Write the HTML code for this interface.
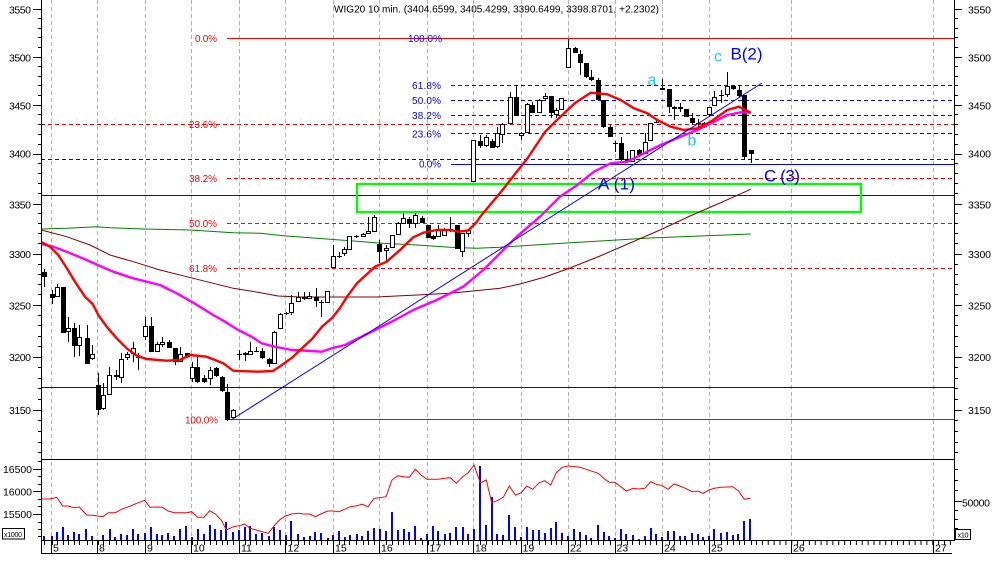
<!DOCTYPE html>
<html><head><meta charset="utf-8"><style>
html,body{margin:0;padding:0;background:#fff;}
svg{display:block;}
text{font-family:"Liberation Sans",Arial,sans-serif;}
</style></head><body>
<svg width="994" height="565" viewBox="0 0 994 565" xmlns="http://www.w3.org/2000/svg">
<rect width="994" height="565" fill="#fff"/>
<!-- vertical day grid -->
<g stroke="#b0b0b0" stroke-width="1" stroke-dasharray="4,3" fill="none">
<path d="M51.5 0V540M97.5 0V540M145.5 0V540M191.5 0V540M239.5 0V540M285.5 0V540M333.5 0V540M379.5 0V540M427.5 0V540M473.5 0V540M521.5 0V540M568.5 0V540M615.5 0V540M662.5 0V540M709.5 0V540M791.5 0V540M933.5 0V540"/>
</g>
<!-- fib / horizontal lines -->
<g fill="none" stroke-width="1">
<path stroke="#ff0000" stroke-dasharray="4,3" d="M41 124.5H955M227 178.5H955M227 223.5H955M227 268.5H955"/>
<path stroke="#0000ff" stroke-dasharray="4,3" d="M451 85.5H955M451 100.5H955M451 115.5H955M451 133.5H955M41 159.5H955"/>
<path stroke="#0000ff" d="M451 164.5H955M41 195.5H955M41 387.5H955"/>
<path stroke="#ff0000" d="M227 38.5H955M229 419.5H955"/>
</g>
<!-- green box -->
<rect x="357" y="184" width="504" height="28" fill="none" stroke="#00ff00" stroke-width="2.3"/>
<!-- slow MAs -->
<polyline fill="none" stroke="#008000" stroke-width="1" points="41.3,229 66.7,228.3 96.7,226.7 110,227.7 143.3,229 190,230 233.3,232.7 260.7,233.3 283.3,235.7 316.7,238.3 350,240.7 383.3,243.3 416.7,245 450,247.3 476.7,248.3 500,247.3 550,244 600,241 650,238 700,236 750.7,234"/>
<polyline fill="none" stroke="#800000" stroke-width="1" points="41.3,230 66.7,236.7 90,245 110,255 133.3,261.7 160,270 186.7,276.7 213.3,283.3 233.3,288.3 260.7,292.7 278,296 300,297 333,297 377,297 417,295 450,293.3 483,290 500,288.3 520,284 545,277 570,268 600,256 630,243 660,230 690,216 720,203 750.7,189.3"/>
<!-- candles -->
<path stroke="#000" stroke-width="1" fill="none" d="M44.5 269V287M52.5 290V304M57.5 284V297M63.5 287V333M68.5 317V342M74.5 323V357M79.5 325V356M87.5 325V364M92.5 345V360M98.5 373V415M103.5 383V410M109.5 367V395M116.5 370V380M121.5 353V383M127.5 352V360M133.5 342V362M138.5 353V370M145.5 317V340M151.5 317V352M157.5 342V352M162.5 337V347M169.5 340V348M175.5 348V365M180.5 347V362M187.5 353V358M192.5 362V382M197.5 357V383M204.5 375V383M210.5 367V385M216.5 367V377M222.5 376V392M227.5 384V421M233.5 409V419M239.5 350V360M245.5 352V361M250.5 342V355M256.5 347V352M262.5 348V359M269.5 358V367M274.5 331V364M280.5 313V329M286.5 312V315M291.5 295V315M298.5 292V302M304.5 292V300M309.5 292V299M316.5 288V307M321.5 300V317M327.5 291V303M333.5 245V268M339.5 252V258M344.5 247V256M349.5 236V250M356.5 235V238M363.5 233V237M368.5 217V234M374.5 215V232M379.5 240V263M386.5 245V262M392.5 235V248M398.5 222V235M403.5 213V224M409.5 217V228M415.5 213V228M422.5 216V223M428.5 225V238M433.5 235V240M438.5 225V237M444.5 228V236M450.5 217V232M457.5 225V249M462.5 233V257M468.5 230V237M473.5 140V182M480.5 135V148M486.5 135V147M492.5 139V148M497.5 127V148M502.5 123V143M510.5 92V125M516.5 85V116M521.5 132V140M527.5 103V133M532.5 102V113M539.5 99V113M545.5 93V100M551.5 96V118M556.5 108V118M561.5 98V110M568.5 39V68M575.5 47V53M580.5 50V75M586.5 63V78M591.5 70V81M598.5 78V100M603.5 100V128M610.5 125V137M615.5 141V152M621.5 137V163M627.5 151V163M632.5 150V162M639.5 149V157M645.5 133V154M650.5 123V141M656.5 120V123M662.5 79V90M669.5 89V113M674.5 106V120M680.5 103V112M686.5 109V117M692.5 113V125M698.5 119V127M704.5 122V128M709.5 107V117M714.5 91V106M721.5 90V103M727.5 72V97M733.5 85V90M739.5 85V98M744.5 95V160M751.5 150V163"/>
<path fill="#000" d="M42 272h5v5h-5zM50 294h5v4h-5zM61 287h5v46h-5zM72 328h5v18h-5zM85 338h5v26h-5zM96 385h5v25h-5zM114 375h5v2h-5zM136 357h5v1h-5zM149 326h5v26h-5zM167 342h5v6h-5zM173 348h5v14h-5zM185 353h5v4h-5zM195 367h5v15h-5zM202 378h5v4h-5zM214 368h5v8h-5zM220 377h5v14h-5zM225 392h5v28h-5zM237 354h5v1h-5zM243 353h5v2h-5zM254 351h5v1h-5zM260 351h5v7h-5zM267 359h5v5h-5zM284 313h5v1h-5zM302 297h5v2h-5zM314 297h5v4h-5zM319 302h5v1h-5zM337 256h5v1h-5zM354 236h5v1h-5zM377 244h5v8h-5zM407 219h5v5h-5zM420 218h5v5h-5zM426 225h5v13h-5zM431 236h5v3h-5zM448 229h5v1h-5zM455 225h5v24h-5zM478 141h5v5h-5zM490 141h5v7h-5zM514 97h5v19h-5zM530 105h5v8h-5zM549 96h5v17h-5zM573 48h5v5h-5zM578 54h5v9h-5zM584 63h5v14h-5zM589 77h5v3h-5zM596 80h5v20h-5zM601 100h5v27h-5zM608 127h5v10h-5zM613 143h5v1h-5zM619 143h5v17h-5zM625 159h5v3h-5zM637 150h5v5h-5zM654 122h5v1h-5zM660 88h5v2h-5zM667 89h5v18h-5zM672 107h5v2h-5zM678 107h5v2h-5zM684 109h5v8h-5zM690 118h5v5h-5zM696 123h5v1h-5zM702 123h5v4h-5zM719 95h5v1h-5zM731 86h5v3h-5zM737 90h5v6h-5zM742 95h5v62h-5zM749 150h5v4h-5z"/>
<path fill="#fff" stroke="#000" stroke-width="1" d="M55.5 287.5h4v9h-4zM66.5 328.5h4v3h-4zM77.5 337.5h4v8h-4zM90.5 354.5h4v4h-4zM101.5 395.5h4v13h-4zM107.5 375.5h4v19h-4zM119.5 359.5h4v18h-4zM125.5 354.5h4v3h-4zM131.5 348.5h4v5h-4zM143.5 326.5h4v10h-4zM155.5 344.5h4v7h-4zM160.5 342.5h4v2h-4zM178.5 354.5h4v7h-4zM190.5 367.5h4v11h-4zM208.5 370.5h4v8h-4zM231.5 410.5h4v7h-4zM248.5 351.5h4v3h-4zM272.5 332.5h4v31h-4zM278.5 314.5h4v14h-4zM289.5 303.5h4v9h-4zM296.5 297.5h4v4h-4zM307.5 296.5h4v2h-4zM325.5 291.5h4v11h-4zM331.5 256.5h4v11h-4zM342.5 249.5h4v4h-4zM347.5 236.5h4v13h-4zM361.5 234.5h4v2h-4zM366.5 231.5h4v2h-4zM372.5 217.5h4v14h-4zM384.5 248.5h4v2h-4zM390.5 235.5h4v12h-4zM396.5 223.5h4v11h-4zM401.5 218.5h4v5h-4zM413.5 215.5h4v8h-4zM436.5 229.5h4v7h-4zM442.5 229.5h4v6h-4zM460.5 233.5h4v18h-4zM466.5 230.5h4v3h-4zM471.5 140.5h4v41h-4zM484.5 137.5h4v8h-4zM495.5 133.5h4v13h-4zM500.5 124.5h4v10h-4zM508.5 97.5h4v26h-4zM519.5 133.5h4v2h-4zM525.5 104.5h4v28h-4zM537.5 100.5h4v12h-4zM543.5 96.5h4v2h-4zM554.5 110.5h4v4h-4zM559.5 98.5h4v11h-4zM566.5 48.5h4v19h-4zM630.5 150.5h4v11h-4zM643.5 142.5h4v11h-4zM648.5 123.5h4v17h-4zM707.5 107.5h4v7h-4zM712.5 97.5h4v8h-4zM725.5 86.5h4v8h-4z"/>
<!-- fast MAs -->
<polyline fill="none" stroke="#ff00ff" stroke-width="2.4" stroke-linejoin="round" points="41.3,244 53.3,246.7 66.7,251.7 86.7,260 100,266 113.3,271.7 133.3,278.3 160,285 176.7,293.3 193.3,302.7 213.3,315 225,321.7 238.3,330 251.7,336.7 261.7,343.3 275,346.7 291.7,350 311.7,351 321.7,351.7 331.7,348.3 345,345 355,340 375,330 395,320 413.3,310 436.7,300 463.3,286.7 483.3,270 500,253.3 516.7,236.7 540,216.7 560,196.7 577.3,185 594,171.7 610.7,163.3 627.3,161.7 644,153.3 660.7,145 680.7,136.7 697.3,130 710.7,123.3 727.3,115 740.7,112.3 750.7,112.7"/>
<polyline fill="none" stroke="#ff0000" stroke-width="2.4" stroke-linejoin="round" points="41,242 50,246.7 58.3,255 66.7,268 75,281.7 85,296.7 92.7,304 98.3,315 106.7,326.7 116.7,338.3 126.7,348.3 136.7,355.7 146.7,359 166.7,360.7 180,360 190,355 206.7,356.7 223.3,363.3 233.3,370.7 246.7,371.3 258,371.7 273,371 282,365 292,357.7 302,348.3 312,339 322,326.7 332,318 340,308 347,296.7 357,283.3 375,266.7 386.7,261.7 400,250 413.3,237.3 423.3,232.7 436.7,230 450,230 458.3,231.7 468.3,230.5 476.7,222 480,217 490,205 501.7,191 515,174 527,159 545,132 557,120 575,103 590.7,92.7 607.3,94.3 620.7,100 634,108.3 647.3,113.3 657.3,120 670.7,126.7 684,130 697.3,128.3 710.7,121.7 727.3,110 739,106.7 750.7,112.7"/>
<!-- trendline -->
<line x1="231" y1="420" x2="762" y2="83" stroke="#0000ff" stroke-width="1"/>
<!-- axes -->
<g stroke="#000" stroke-width="1" fill="none">
<path d="M41.5 0V553.5M954.5 0V540.5M41 459.5H955M41 540.5H955M41 553.5H952"/>
<path d="M33 9.5H41M33 57.5H41M33 105.5H41M33 154.5H41M33 204.5H41M33 254.5H41M33 305.5H41M33 357.5H41M33 410.5H41"/>
<path d="M38 18.5H41M38 28.5H41M38 37.5H41M38 47.5H41M38 66.5H41M38 76.5H41M38 85.5H41M38 95.5H41M38 114.5H41M38 124.5H41M38 134.5H41M38 144.5H41M38 163.5H41M38 173.5H41M38 183.5H41M38 193.5H41M38 213.5H41M38 223.5H41M38 233.5H41M38 243.5H41M38 264.5H41M38 274.5H41M38 284.5H41M38 294.5H41M38 315.5H41M38 325.5H41M38 336.5H41M38 346.5H41M38 367.5H41M38 378.5H41M38 388.5H41M38 399.5H41M38 420.5H41M38 431.5H41M38 442.5H41M38 452.5H41"/>
<path d="M955 9.5H962M955 57.5H962M955 105.5H962M955 154.5H962M955 204.5H962M955 254.5H962M955 305.5H962M955 357.5H962M955 410.5H962"/>
<path d="M955 18.5H958M955 28.5H958M955 37.5H958M955 47.5H958M955 66.5H958M955 76.5H958M955 85.5H958M955 95.5H958M955 114.5H958M955 124.5H958M955 134.5H958M955 144.5H958M955 163.5H958M955 173.5H958M955 183.5H958M955 193.5H958M955 213.5H958M955 223.5H958M955 233.5H958M955 243.5H958M955 264.5H958M955 274.5H958M955 284.5H958M955 294.5H958M955 315.5H958M955 325.5H958M955 336.5H958M955 346.5H958M955 367.5H958M955 378.5H958M955 388.5H958M955 399.5H958M955 420.5H958M955 431.5H958M955 442.5H958M955 452.5H958"/>
<path d="M33 469.5H41M33 491.5H41M33 514.5H41M38 461.5H41M38 476.5H41M38 484.5H41M38 499.5H41M38 506.5H41M38 522.5H41M38 529.5H41M38 536.5H41"/>
<path d="M955 469.5H958M955 480.5H958M955 490.5H958M955 501.5H962M955 510.5H958M955 519.5H958M955 528.5H958"/>
<path d="M51.5 540V553M97.5 540V553M145.5 540V553M191.5 540V553M239.5 540V553M285.5 540V553M333.5 540V553M379.5 540V553M427.5 540V553M473.5 540V553M521.5 540V553M568.5 540V553M615.5 540V553M662.5 540V553M709.5 540V553M791.5 540V553M933.5 540V553"/>
<path d="M44.5 541v4M52.5 541v4M57.5 541v4M63.5 541v4M68.5 541v4M74.5 541v4M79.5 541v4M87.5 541v4M92.5 541v4M98.5 541v4M103.5 541v4M109.5 541v4M116.5 541v4M121.5 541v4M127.5 541v4M133.5 541v4M138.5 541v4M145.5 541v4M151.5 541v4M157.5 541v4M162.5 541v4M169.5 541v4M175.5 541v4M180.5 541v4M187.5 541v4M192.5 541v4M197.5 541v4M204.5 541v4M210.5 541v4M216.5 541v4M222.5 541v4M227.5 541v4M233.5 541v4M239.5 541v4M245.5 541v4M250.5 541v4M256.5 541v4M262.5 541v4M269.5 541v4M274.5 541v4M280.5 541v4M286.5 541v4M291.5 541v4M298.5 541v4M304.5 541v4M309.5 541v4M316.5 541v4M321.5 541v4M327.5 541v4M333.5 541v4M339.5 541v4M344.5 541v4M349.5 541v4M356.5 541v4M363.5 541v4M368.5 541v4M374.5 541v4M379.5 541v4M386.5 541v4M392.5 541v4M398.5 541v4M403.5 541v4M409.5 541v4M415.5 541v4M422.5 541v4M428.5 541v4M433.5 541v4M438.5 541v4M444.5 541v4M450.5 541v4M457.5 541v4M462.5 541v4M468.5 541v4M473.5 541v4M480.5 541v4M486.5 541v4M492.5 541v4M497.5 541v4M502.5 541v4M510.5 541v4M516.5 541v4M521.5 541v4M527.5 541v4M532.5 541v4M539.5 541v4M545.5 541v4M551.5 541v4M556.5 541v4M561.5 541v4M568.5 541v4M575.5 541v4M580.5 541v4M586.5 541v4M591.5 541v4M598.5 541v4M603.5 541v4M610.5 541v4M615.5 541v4M621.5 541v4M627.5 541v4M632.5 541v4M639.5 541v4M645.5 541v4M650.5 541v4M656.5 541v4M662.5 541v4M669.5 541v4M674.5 541v4M680.5 541v4M686.5 541v4M692.5 541v4M698.5 541v4M704.5 541v4M709.5 541v4M714.5 541v4M721.5 541v4M727.5 541v4M733.5 541v4M739.5 541v4M744.5 541v4M751.5 541v4"/>
<line x1="756" y1="543" x2="952" y2="543" stroke-width="4" stroke-dasharray="1,4.875"/>
<rect x="2.5" y="528.5" width="22" height="10.5"/>
<rect x="955.5" y="529.5" width="15" height="10"/>
</g>
<!-- volume -->
<path fill="none" stroke="#0000ff" stroke-width="2" d="M44 540V536M52 540V536M57 540V532M63 540V527M68 540V535M74 540V532M79 540V534M86 540V529M92 540V536M103 540V535M110 540V529M115 540V537M121 540V534M127 540V535M133 540V529M138 540V534M145 540V533M151 540V527M157 540V534M162 540V535M168 540V533M174 540V536M180 540V529M186 540V526M192 540V537M198 540V529M204 540V534M210 540V525M215 540V529M221 540V530M226 540V522M233 540V532M239 540V530M245 540V527M250 540V526M256 540V534M262 540V533M269 540V536M274 540V527M280 540V530M286 540V535M291 540V521M298 540V534M304 540V537M310 540V536M315 540V532M321 540V533M328 540V538M333 540V535M339 540V531M345 540V537M350 540V535M357 540V534M362 540V536M368 540V531M374 540V528M380 540V529M386 540V531M392 540V512M398 540V530M404 540V529M409 540V532M415 540V526M421 540V538M427 540V534M433 540V526M438 540V531M445 540V534M450 540V533M456 540V527M463 540V527M468 540V534M474 540V529M480 540V466M486 540V525M492 540V497M497 540V534M503 540V535M509 540V515M515 540V527M521 540V537M527 540V527M533 540V530M539 540V530M545 540V533M551 540V528M556 540V522M562 540V533M568 540V536M574 540V529M580 540V532M586 540V535M591 540V538M598 540V525M604 540V532M609 540V536M615 540V538M621 540V529M626 540V534M633 540V535M639 540V539M645 540V536M651 540V528M656 540V534M662 540V537M668 540V531M674 540V531M680 540V536M685 540V536M692 540V533M698 540V534M703 540V537M709 540V536M714 540V529M721 540V533M727 540V532M733 540V535M738 540V534M744 540V521M750 540V519"/>
<polyline fill="none" stroke="#ff0000" stroke-width="1" points="41.3,499 50,499 56.7,497.3 62.7,506 68.3,506 74,507.7 79.3,507 86.7,515 92.3,515.3 97.3,516 103,516.7 108.3,512.7 115.3,512.7 121.3,509.3 127,507.3 132.7,505 138.3,502.7 144.7,500.3 150,507.3 156.7,507 162.3,507.3 168.3,511 174.3,512.7 186.7,512.7 191.7,511.7 197.7,517.3 204,517.3 209.7,510.7 215.3,514 221.3,520 226.3,530 233.3,526.7 239.3,525.7 244.7,524 250,528.3 256.3,530 262.3,531.7 268.3,533.3 274,526 280.3,519.3 285.7,516 291.3,514 298.3,513.3 304,514 309.7,514 315.3,516.7 320.7,514 327.7,511 333.3,511 338.7,511.7 344.7,509.3 350.3,506.7 356.7,505.7 362.3,504.3 368,506.7 374,498.3 379.7,497.7 386,496.7 392,480 397.7,475.7 403.7,476.7 409.3,477.3 415.3,469.3 421,475 427,479.3 432.7,479.3 438.3,479.3 444.7,478.3 450.3,477.7 456.3,483.3 462.7,476.7 468.3,472.7 474,465 480.3,482.7 486.3,480 491.7,502.7 497.3,500.7 503.3,497.3 509.3,486 515.3,495 521.3,492.7 526.7,486 532.7,489.3 539.3,482.7 544.7,480.7 550.7,485 556.3,472.7 562.3,467.3 568,466 580.3,467.3 586,469.3 598.3,473.3 603.7,478.3 609.3,482.3 615,482.3 620.7,486.7 626.3,491 633.3,488.3 638.7,489 644.7,488.3 650.7,481.7 656.3,484.3 662.3,485.7 668,489.3 674,484 679.7,486 685.3,488.3 692.3,491.7 697.7,491 703,493.3 709,490 714.3,488.3 721.3,487.3 732.7,486.7 738.3,490.7 744.3,499.3 750.3,498.3"/>
<!-- texts -->
<g font-size="10.5" fill="#000">
<text x="334" y="12.5" font-size="10" textLength="325" lengthAdjust="spacingAndGlyphs">WIG20 10 min. (3404.6599, 3405.4299, 3390.6499, 3398.8701, +2.2302)</text>
<text x="9" y="13.3" textLength="22">3550</text>
<text x="9" y="61.3" textLength="22">3500</text>
<text x="9" y="109.3" textLength="22">3450</text>
<text x="9" y="157.7" textLength="22">3400</text>
<text x="9" y="208.3" textLength="22">3350</text>
<text x="9" y="258.2" textLength="22">3300</text>
<text x="9" y="309.3" textLength="22">3250</text>
<text x="9" y="361" textLength="22">3200</text>
<text x="9" y="414" textLength="22">3150</text>
<text x="968" y="13.3" textLength="23">3550</text>
<text x="968" y="61.3" textLength="23">3500</text>
<text x="968" y="109.3" textLength="23">3450</text>
<text x="968" y="157.7" textLength="23">3400</text>
<text x="968" y="208.3" textLength="23">3350</text>
<text x="968" y="258.2" textLength="23">3300</text>
<text x="968" y="309.3" textLength="23">3250</text>
<text x="968" y="361" textLength="23">3200</text>
<text x="968" y="414" textLength="23">3150</text>
<text x="3" y="473" textLength="29">16500</text>
<text x="3" y="495.5" textLength="29">16000</text>
<text x="3" y="518" textLength="29">15500</text>
<text x="962" y="506.5" textLength="28">50000</text>
<text x="4" y="537" font-size="7" textLength="18">x1000</text>
<text x="957.5" y="537.5" font-size="7.5" textLength="11">x10</text>
<text x="53" y="551.5">5</text>
<text x="99" y="551.5">8</text>
<text x="147" y="551.5">9</text>
<text x="193" y="551.5">10</text>
<text x="241" y="551.5">11</text>
<text x="287.5" y="551.5">12</text>
<text x="335" y="551.5">15</text>
<text x="381" y="551.5">16</text>
<text x="429.5" y="551.5">17</text>
<text x="475" y="551.5">18</text>
<text x="522.5" y="551.5">19</text>
<text x="570" y="551.5">22</text>
<text x="616.5" y="551.5">23</text>
<text x="664" y="551.5">24</text>
<text x="711" y="551.5">25</text>
<text x="793" y="551.5">26</text>
<text x="935" y="551.5">27</text>
</g>
<g font-size="10" fill="#ff0000">
<text x="195" y="42" textLength="22">0.0%</text>
<text x="189" y="128" textLength="28">23.6%</text>
<text x="189" y="182" textLength="28">38.2%</text>
<text x="189" y="227" textLength="28">50.0%</text>
<text x="189" y="272" textLength="28">61.8%</text>
<text x="185" y="423.5" textLength="33">100.0%</text>
</g>
<g font-size="10" fill="#0000ff">
<text x="408" y="42" textLength="34">100.0%</text>
<text x="412" y="89" textLength="29">61.8%</text>
<text x="412" y="104" textLength="29">50.0%</text>
<text x="412" y="119" textLength="29">38.2%</text>
<text x="412" y="137.5" textLength="29">23.6%</text>
<text x="419" y="167.5" textLength="22">0.0%</text>
</g>
<g font-size="17" fill="#0000ff">
<text x="730.5" y="59.5" textLength="32">B(2)</text>
<text x="598" y="189.5" textLength="37">A (1)</text>
<text x="764" y="181.5" textLength="36">C (3)</text>
</g>
<g font-size="16" fill="#20c8f0">
<text x="647.5" y="85">a</text>
<text x="687.5" y="145.5">b</text>
<text x="714" y="61.5">c</text>
</g>
</svg>
</body></html>
